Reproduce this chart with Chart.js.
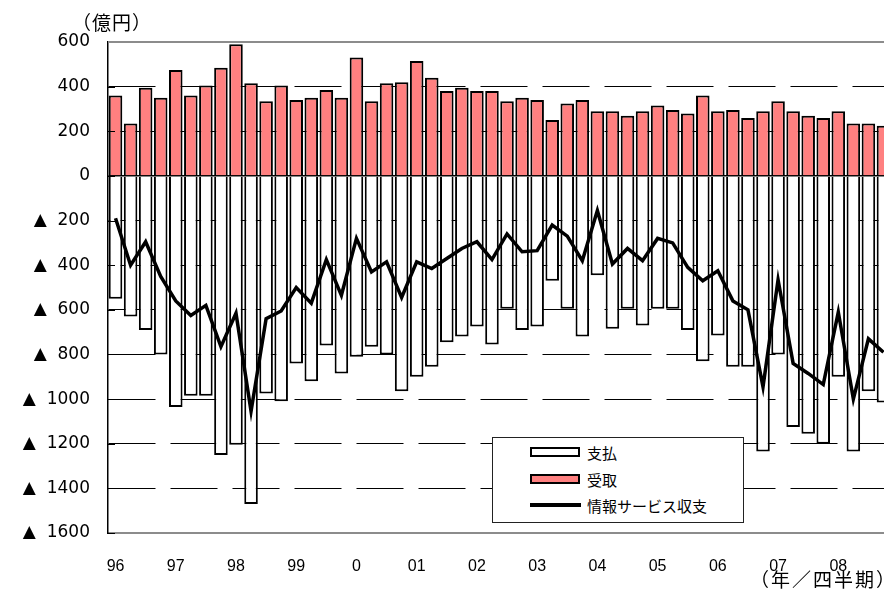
<!DOCTYPE html>
<html lang="ja">
<head>
<meta charset="utf-8">
<title>情報サービス収支</title>
<script src="https://cdn.jsdelivr.net/npm/chart.js@4.4.1/dist/chart.umd.min.js"></script>
<style>
  html, body { margin: 0; padding: 0; background: #fff; overflow: hidden; }
  #wrap { position: relative; width: 884px; height: 595px; overflow: hidden; }
  #chart { position: absolute; left: 0; top: 0; }
  .unit { position: absolute; font-family: "Noto Sans CJK JP", sans-serif; color: #000; white-space: nowrap; line-height: 1; }
  #unitY { left: 72px; top: 12px; font-size: 19px; letter-spacing: 1px; }
  #unitX { left: 750px; top: 569px; font-size: 19px; letter-spacing: 2px; }
  #legend {
    position: absolute; left: 492px; top: 437px; width: 252px; height: 86px;
    box-sizing: border-box; border: 1px solid #222; background: #fff;
    font-family: "Noto Sans CJK JP", sans-serif; font-size: 15px; color: #000;
  }
  .item { position: absolute; left: 37px; height: 20px; display: flex; align-items: center; white-space: nowrap; }
  .swatch { width: 46px; height: 6px; border: 2px solid #000; margin-right: 7px; }
  .stroke { width: 51px; height: 4px; background: #000; margin-right: 6px; }
</style>
</head>
<body>
<div id="wrap">
  <canvas id="chart" width="892" height="595"></canvas>
  <div class="unit" id="unitY">（億円）</div>
  <div class="unit" id="unitX">（年／四半期）</div>
  <div id="legend">
    <div class="item" style="top:4px"><span class="swatch" style="background:#fff"></span>支払</div>
    <div class="item" style="top:31px"><span class="swatch" style="background:#ff8080"></span>受取</div>
    <div class="item" style="top:57px"><span class="stroke"></span>情報サービス収支</div>
  </div>
</div>
<script>
// 1996年1-3月期 ～ 2008年10-12月期（四半期）
const years = ['96', '97', '98', '99', '0', '01', '02', '03', '04', '05', '06', '07', '08'];
const quarters = years.flatMap((y) => [y, '', '', '']);

// 受取
const receipts = [
  360, 235, 395, 350, 475, 360, 405, 485, 590, 415, 335, 405, 340,
  350, 385, 350, 530, 335, 415, 420, 515, 440, 380, 395, 380, 380,
  335, 350, 340, 250, 325, 340, 290, 290, 270, 290, 315, 295, 280,
  360, 290, 295, 260, 290, 335, 290, 270, 260, 290, 235, 235, 225,
];

// 支払
const payments = [
  -550, -630, -690, -800, -1035, -985, -985, -1250, -1205, -1470, -975, -1010, -840,
  -920, -760, -885, -810, -765, -800, -965, -900, -855, -745, -720, -675, -755,
  -595, -690, -675, -470, -595, -720, -445, -685, -595, -670, -595, -595, -690,
  -830, -715, -855, -855, -1235, -800, -1125, -1155, -1200, -900, -1235, -965, -1015,
];

// 情報サービス収支
const balance = [
  -190, -400, -295, -450, -560, -625, -580, -765, -615, -1055, -640, -605, -500,
  -570, -375, -535, -280, -430, -385, -545, -385, -415, -370, -325, -295, -375,
  -260, -340, -335, -220, -270, -380, -155, -395, -325, -380, -280, -300, -410,
  -470, -425, -560, -600, -945, -465, -840, -885, -935, -610, -1000, -730, -790,
];

const yMin = -1600;
const yMax = 600;
const yStep = 200;

// 左軸の内向き目盛りと上辺の枠線
const frame = {
  id: 'frame',
  afterDatasetsDraw(chart) {
    const { ctx, chartArea, scales: { y } } = chart;
    ctx.save();
    ctx.strokeStyle = '#000';
    ctx.lineWidth = 1;
    y.ticks.forEach((t) => {
      const py = Math.round(y.getPixelForValue(t.value)) + 0.5;
      ctx.beginPath();
      ctx.moveTo(chartArea.left, py);
      ctx.lineTo(chartArea.left + 7, py);
      ctx.stroke();
    });
    ctx.strokeStyle = '#8c8c8c';
    ctx.lineWidth = 2;
    ctx.beginPath();
    ctx.moveTo(chartArea.left, chartArea.top);
    ctx.lineTo(chartArea.right, chartArea.top);
    ctx.stroke();
    ctx.restore();
  },
};

Chart.defaults.font.family = '"DejaVu Sans", sans-serif';
Chart.defaults.color = '#000';

new Chart(document.getElementById('chart'), {
  type: 'bar',
  data: {
    labels: quarters,
    datasets: [
      {
        type: 'line',
        label: '情報サービス収支',
        data: balance,
        borderColor: '#000',
        borderWidth: 3.5,
        pointRadius: 0,
        tension: 0,
        order: 0,
      },
      {
        label: '受取',
        data: receipts,
        backgroundColor: '#ff8080',
        borderColor: '#000',
        borderWidth: 2,
        grouped: false,
        barPercentage: 0.9,
        categoryPercentage: 1,
        order: 1,
      },
      {
        label: '支払',
        data: payments,
        backgroundColor: '#fff',
        borderColor: '#000',
        borderWidth: 2,
        grouped: false,
        barPercentage: 0.9,
        categoryPercentage: 1,
        order: 2,
      },
    ],
  },
  options: {
    responsive: false,
    animation: false,
    devicePixelRatio: 1,
    layout: { padding: { top: 42, right: 1, left: 0, bottom: 0 } },
    plugins: {
      legend: { display: false },
      tooltip: { enabled: false },
    },
    scales: {
      x: {
        // 目盛り線は描かず、ラベル位置を下げるためだけに tickLength を使う
        grid: { display: false, drawTicks: true, tickLength: 24 },
        border: { display: true, color: '#8c8c8c', width: 2 },
        ticks: {
          autoSkip: false,
          maxRotation: 0,
          padding: 0,
          font: { size: 16, family: '"Liberation Sans", sans-serif' },
        },
        afterFit: (scale) => { scale.height = 62; },
      },
      y: {
        min: yMin,
        max: yMax,
        ticks: {
          stepSize: yStep,
          padding: 18,
          font: { size: 17 },
          callback: (v) => (v < 0 ? '▲  ' + Math.abs(v) : String(v)),
        },
        grid: {
          drawTicks: false,
          color: (c) => (c.tick && (c.tick.value === yMax || c.tick.value === yMin) ? 'rgba(0,0,0,0)' : '#000'),
          lineWidth: (c) => (c.tick && c.tick.value === 0 ? 1.5 : 1),
        },
        border: {
          display: true,
          color: '#000',
          width: 1.5,
          dash: (c) => (c.tick && c.tick.value === 0 ? [] : [47, 15]),
        },
        afterFit: (scale) => { scale.width = 108; },
      },
    },
  },
  plugins: [frame],
});
</script>
</body>
</html>
